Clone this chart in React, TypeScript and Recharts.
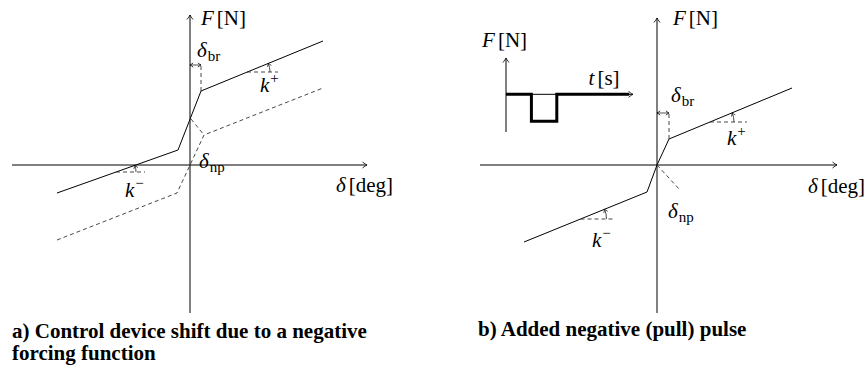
import React from 'react';
import { LineChart, Line, XAxis, YAxis, ReferenceLine, ReferenceDot } from 'recharts';

const SERIF = "'Liberation Serif', 'DejaVu Serif', serif";
const INK = '#000';
const DASH = '#333';

// a) characteristic (δ, F) and the shifted one
const deltaA = [-13.3, -1.2, 1.1, 13.3];
const forceA = [-2.8, 1.5, 7.4, 12.4];
const deltaShiftA = [-13.3, -1.3, 1.4, 13.3];
const forceShiftA = [-7.5, -2.8, 3.0, 7.7];
const shiftPathA = [[0.1, 4.6], [1.4, 3.0]];

// b) characteristic with the pull pulse
const deltaB = [-13.3, -1.0, 0, 1.2, 13.5];
const forceB = [-7.7, -2.7, 0, 2.6, 7.7];
const npPathB = [[0, 0], [2.3, -2.5]];

// inset pulse F(t)
const pulseT = [0, 1, 1, 2, 2, 4.85];
const pulseF = [0, 0, -1, -1, 0, 0];

// axis extents [min, max]
const axisAX = [-17.8, 17.7];
const axisAY = [-14.8, 15.0];
const axisBX = [-17.7, 18.0];
const axisBY = [-14.8, 14.7];

// δ_br markers: breakout x, top of marker, level of the kink
const brA = [1.1, 7.4, 10.0];
const brB = [1.2, 2.6, 5.2];

// slope markers: pivot x, end x, level, arc radius (px)
const kMarksA = [
  [5.7, 8.8, 9.3, 23],
  [-7.4, -4.5, -0.7, 20],
];
const kMarksB = [
  [5.3, 9.0, 4.3, 24],
  [-7.65, -4.4, -5.4, 26],
];

type Pt = { x: number; y: number };
type Lbl = { x: number; y: number; base: string; rest?: string; sub?: string; sup?: string };

const labelsA: Lbl[] = [
  { x: 1.1, y: 14.0, base: 'F', rest: '[N]' },
  { x: 14.6, y: -2.7, base: 'δ', rest: '[deg]' },
  { x: 0.7, y: 10.8, base: 'δ', sub: 'br' },
  { x: 0.9, y: -0.3, base: 'δ', sub: 'np' },
  { x: 7.0, y: 7.3, base: 'k', sup: '+' },
  { x: -6.5, y: -3.2, base: 'k', sup: '−' },
];
const labelsB: Lbl[] = [
  { x: 1.6, y: 14.0, base: 'F', rest: '[N]' },
  { x: 15.1, y: -2.8, base: 'δ', rest: '[deg]' },
  { x: 1.4, y: 6.3, base: 'δ', sub: 'br' },
  { x: 1.1, y: -5.3, base: 'δ', sub: 'np' },
  { x: 7.0, y: 2.0, base: 'k', sup: '+' },
  { x: -6.5, y: -8.2, base: 'k', sup: '−' },
];
const labelsInset: Lbl[] = [
  { x: -0.94, y: 1.76, base: 'F', rest: '[N]' },
  { x: 3.25, y: 0.35, base: 't', rest: '[s]' },
];

const toPts = (xs: number[], ys: number[]): Pt[] => xs.map((x, i) => ({ x, y: ys[i] }));
const pairPts = (p: number[][]): Pt[] => p.map(([x, y]) => ({ x, y }));

const slopeAt = (xs: number[], ys: number[], x: number) => {
  for (let i = 0; i < xs.length - 1; i++) {
    if (x >= xs[i] && x <= xs[i + 1]) return (ys[i + 1] - ys[i]) / (xs[i + 1] - xs[i]);
  }
  return 0;
};

const arrowD = (x: number, y: number, ang: number, s = 1) => {
  const c = Math.cos(ang);
  const n = Math.sin(ang);
  const p = (a: number, b: number) =>
    `${(x - a * s * c - b * s * n).toFixed(2)},${(y - a * s * n + b * s * c).toFixed(2)}`;
  return `M${p(4.5, 3)} Q${p(1.2, 0.5)} ${p(0, 0)} Q${p(1.2, -0.5)} ${p(4.5, -3)}`;
};

const arrowLine = (opts: { both?: boolean; dash?: string; w?: number; s?: number }) => (p: any) => {
  const { x1, y1, x2, y2 } = p;
  const ang = Math.atan2(y2 - y1, x2 - x1);
  return (
    <g>
      <line x1={x1} y1={y1} x2={x2} y2={y2} stroke={opts.dash ? DASH : INK} strokeWidth={opts.w ?? 1} strokeDasharray={opts.dash} />
      <path d={arrowD(x2, y2, ang, opts.s)} fill="none" stroke={INK} strokeWidth={0.8} />
      {opts.both && <path d={arrowD(x1, y1, ang + Math.PI, opts.s)} fill="none" stroke={INK} strokeWidth={0.8} />}
    </g>
  );
};

const plainLine = (dash?: string) => (p: any) => (
  <line x1={p.x1} y1={p.y1} x2={p.x2} y2={p.y2} stroke={dash ? DASH : INK} strokeWidth={0.9} strokeDasharray={dash} />
);

const mathText = (l: Lbl) => (p: any) => (
  <text x={p.cx} y={p.cy} style={{ fontFamily: SERIF }} fontSize={21} fill={INK}>
    <tspan fontStyle="italic">{l.base}</tspan>
    {l.rest && <tspan dx={3}>{l.rest}</tspan>}
    {l.sub && <tspan fontSize={15} dx={1} dy={4}>{l.sub}</tspan>}
    {l.sup && <tspan fontSize={15} dx={1} dy={-9}>{l.sup}</tspan>}
  </text>
);

const slopeArc = (r: number, ang: number) => (p: any) => {
  const { cx, cy } = p;
  const ex = cx + r * Math.cos(ang);
  const ey = cy - r * Math.sin(ang);
  const tang = Math.atan2(-Math.cos(ang), -Math.sin(ang));
  return (
    <g>
      <path d={`M${cx + r},${cy} A${r},${r} 0 0 0 ${ex.toFixed(2)},${ey.toFixed(2)}`} fill="none" stroke={INK} strokeWidth={0.7} />
      <path d={arrowD(ex, ey, tang, 0.7)} fill="none" stroke={INK} strokeWidth={0.7} />
    </g>
  );
};

interface PanelProps {
  width: number;
  height: number;
  xDomain: number[];
  yDomain: number[];
  axisX: number[];
  axisY: number[];
  solid: Pt[];
  dashed: Pt[][];
  br: number[];
  kMarks: number[][];
  slopeXs: number[];
  slopeYs: number[];
  labels: Lbl[];
}

const Panel: React.FC<PanelProps> = (pr) => (
  <LineChart width={pr.width} height={pr.height} margin={{ top: 0, right: 0, bottom: 0, left: 0 }}>
    <XAxis type="number" dataKey="x" domain={pr.xDomain} hide allowDataOverflow />
    <YAxis type="number" dataKey="y" domain={pr.yDomain} hide allowDataOverflow />
    <ReferenceLine segment={[{ x: pr.axisX[0], y: 0 }, { x: pr.axisX[1], y: 0 }]} shape={arrowLine({})} />
    <ReferenceLine segment={[{ x: 0, y: pr.axisY[0] }, { x: 0, y: pr.axisY[1] }]} shape={arrowLine({})} />
    <Line data={pr.solid} dataKey="y" stroke={INK} strokeWidth={1} dot={false} activeDot={false} isAnimationActive={false} />
    {pr.dashed.map((d, i) => (
      <Line key={i} data={d} dataKey="y" stroke={DASH} strokeWidth={0.9} strokeDasharray="4 3" dot={false} activeDot={false} isAnimationActive={false} />
    ))}
    <ReferenceLine segment={[{ x: pr.br[0], y: pr.br[1] }, { x: pr.br[0], y: pr.br[2] }]} shape={plainLine('4 3')} />
    <ReferenceLine segment={[{ x: 0, y: pr.br[2] }, { x: pr.br[0], y: pr.br[2] }]} shape={arrowLine({ both: true, w: 0.7, s: 0.7 })} />
    {pr.kMarks.map(([x0, x1, y, r], i) => (
      <React.Fragment key={i}>
        <ReferenceLine segment={[{ x: x0, y }, { x: x1, y }]} shape={plainLine('4 3')} />
        <ReferenceDot x={x0} y={y} r={0} shape={slopeArc(r, Math.atan(slopeAt(pr.slopeXs, pr.slopeYs, x0)))} />
      </React.Fragment>
    ))}
    {pr.labels.map((l, i) => (
      <ReferenceDot key={`l${i}`} x={l.x} y={l.y} r={0} ifOverflow="visible" shape={mathText(l)} />
    ))}
  </LineChart>
);

const Inset: React.FC = () => (
  <LineChart width={170} height={120} margin={{ top: 38, right: 7, bottom: 8, left: 36 }}>
    <XAxis type="number" dataKey="x" domain={[0, 5]} hide allowDataOverflow />
    <YAxis type="number" dataKey="y" domain={[-1.4, 1.35]} hide allowDataOverflow />
    <ReferenceLine segment={[{ x: 0, y: -1.4 }, { x: 0, y: 1.35 }]} shape={arrowLine({})} />
    <ReferenceLine segment={[{ x: 0, y: 0 }, { x: 5, y: 0 }]} shape={arrowLine({})} />
    <Line data={toPts(pulseT, pulseF)} dataKey="y" stroke={INK} strokeWidth={3} strokeLinejoin="miter" dot={false} activeDot={false} isAnimationActive={false} />
    {labelsInset.map((l, i) => (
      <ReferenceDot key={i} x={l.x} y={l.y} r={0} ifOverflow="visible" shape={mathText(l)} />
    ))}
  </LineChart>
);

const capStyle: React.CSSProperties = {
  position: 'absolute',
  fontFamily: SERIF,
  fontWeight: 'bold',
  fontSize: 21,
  lineHeight: '22px',
  color: INK,
  whiteSpace: 'nowrap',
};

export default function App() {
  return (
    <div style={{ position: 'absolute', left: 0, top: 0, width: 865, height: 369, background: '#fff', overflow: 'hidden' }}>
      <div style={{ position: 'absolute', left: 0, top: 0 }}>
        <Panel
          width={400}
          height={320}
          xDomain={[-19, 21]}
          yDomain={[-15.5, 16.5]}
          axisX={axisAX}
          axisY={axisAY}
          solid={toPts(deltaA, forceA)}
          dashed={[toPts(deltaShiftA, forceShiftA), pairPts(shiftPathA)]}
          br={brA}
          kMarks={kMarksA}
          slopeXs={deltaA}
          slopeYs={forceA}
          labels={labelsA}
        />
      </div>
      <div style={{ position: 'absolute', left: 440, top: 0 }}>
        <Panel
          width={425}
          height={320}
          xDomain={[-21.7, 20.8]}
          yDomain={[-15.5, 16.5]}
          axisX={axisBX}
          axisY={axisBY}
          solid={toPts(deltaB, forceB)}
          dashed={[pairPts(npPathB)]}
          br={brB}
          kMarks={kMarksB}
          slopeXs={deltaB}
          slopeYs={forceB}
          labels={labelsB}
        />
      </div>
      <div style={{ position: 'absolute', left: 470, top: 20 }}>
        <Inset />
      </div>
      <div style={{ ...capStyle, left: 12, top: 320 }}>
        a) Control device shift due to a negative
        <br />
        forcing function
      </div>
      <div style={{ ...capStyle, left: 478, top: 318 }}>b) Added negative (pull) pulse</div>
    </div>
  );
}
